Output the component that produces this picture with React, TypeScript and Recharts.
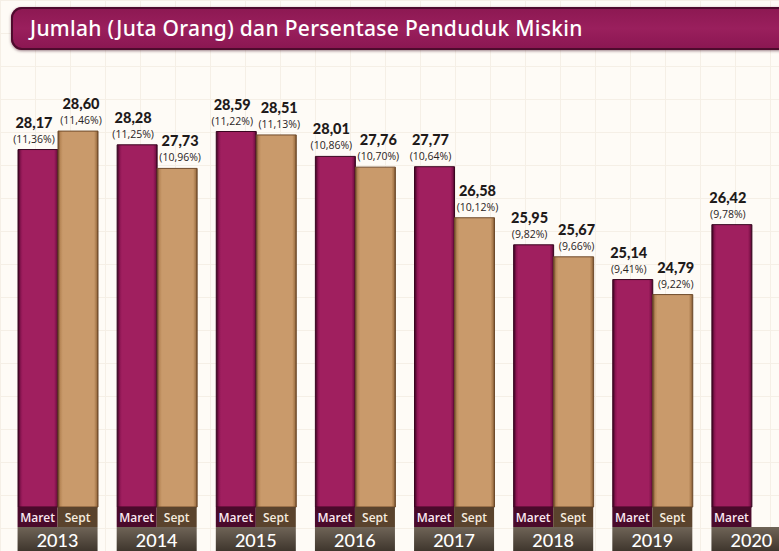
import React from 'react';
import { BarChart, Bar, XAxis, YAxis, LabelList } from 'recharts';

const years = ['2013', '2014', '2015', '2016', '2017', '2018', '2019', '2020'];
const maretValues = [28.17, 28.28, 28.59, 28.01, 27.77, 25.95, 25.14, 26.42];
const septValues: (number | null)[] = [28.6, 27.73, 28.51, 27.76, 26.58, 25.67, 24.79, null];
const maretPct = ['11,36%', '11,25%', '11,22%', '10,86%', '10,64%', '9,82%', '9,41%', '9,78%'];
const septPct = ['11,46%', '10,96%', '11,13%', '10,70%', '10,12%', '9,66%', '9,22%', ''];
const seriesNames = ['Maret', 'Sept'];
const title = 'Jumlah (Juta Orang) dan Persentase Penduduk Miskin';

const data = years.map((y, i) => ({
  year: y,
  maret: maretValues[i],
  sept: septValues[i],
}));

const fmt = (v: number) => v.toFixed(2).replace('.', ',');

const makeLabel = (pcts: string[], shift: number) => (props: any) => {
  const { x, y, width, value, index } = props;
  if (value == null) return null;
  const cx = Number(x) + Number(width) / 2 + shift;
  const top = Number(y);
  return (
    <g>
      <text x={cx} y={top - 22} textAnchor="middle" fontFamily="Lato, 'Noto Sans', sans-serif" fontWeight={900} fontSize={14.5} fill="#1e1a1a">
        {fmt(Number(value))}
      </text>
      <text x={cx} y={top - 7} textAnchor="middle" fontFamily="'Open Sans', sans-serif" fontWeight={400} fontSize={10.5} fill="#2a2424">
        ({pcts[index]})
      </text>
    </g>
  );
};

const YearTick = (props: any) => {
  const { x, y, payload, index } = props;
  const hasSept = septValues[index] != null;
  return (
    <g>
      <rect x={x - 40} y={y} width={40} height={20} fill="#4a0a2b" />
      <text x={x - 20} y={y + 15} textAnchor="middle" fontFamily="'Open Sans', sans-serif" fontWeight={600} fontSize={12} fill="#fbe8f1">
        {seriesNames[0]}
      </text>
      {hasSept && (
        <>
          <rect x={x} y={y} width={40} height={20} fill="#5a432d" />
          <text x={x + 20} y={y + 15} textAnchor="middle" fontFamily="'Open Sans', sans-serif" fontWeight={600} fontSize={12} fill="#f6ecdf">
            {seriesNames[1]}
          </text>
        </>
      )}
      <rect x={x - 40} y={y + 20} width={80} height={24} fill="url(#yearGrad)" />
      <text x={x} y={y + 40} textAnchor="middle" fontFamily="Lato, 'DejaVu Sans', sans-serif" fontWeight={500} fontSize={18} fill="#ffffff">
        {payload.value}
      </text>
    </g>
  );
};

export default function App() {
  return (
    <div
      style={{
        position: 'absolute',
        left: 0,
        top: 0,
        width: 779,
        height: 551,
        overflow: 'hidden',
        backgroundColor: '#fefbf6',
        backgroundImage:
          'linear-gradient(to right, #f5efe6 1px, transparent 1px), linear-gradient(to bottom, #f5efe6 1px, transparent 1px)',
        backgroundSize: '35px 33px',
      }}
    >
      <div
        style={{
          position: 'absolute',
          left: 11,
          top: 7,
          width: 800,
          height: 43,
          borderRadius: 11,
          background: 'linear-gradient(to bottom, #8c1852 0%, #9a1f5d 50%, #8a1651 100%)',
          boxShadow: 'inset 0 0 0 2px #4e0b2d, 0 1px 3px rgba(60,10,30,0.5)',
          color: '#ffffff',
          fontFamily: '"Noto Sans", sans-serif',
          fontWeight: 500,
          fontSize: 21,
          letterSpacing: 0.3,
          lineHeight: '43px',
          paddingLeft: 19,
          boxSizing: 'border-box',
          whiteSpace: 'nowrap',
        }}
      >
        {title}
      </div>
      <div style={{ position: 'absolute', left: 0, top: 0 }}>
        <BarChart
          width={779}
          height={551}
          data={data}
          margin={{ top: 71, right: -22, bottom: 0, left: 8 }}
          barGap={0}
          barSize={40}
        >
          <defs>
            <linearGradient id="marGrad" x1="0" y1="0" x2="1" y2="0">
              <stop offset="0%" stopColor="#3a0520" />
              <stop offset="7%" stopColor="#8d1653" />
              <stop offset="12%" stopColor="#a01f5f" />
              <stop offset="90%" stopColor="#a01f5f" />
              <stop offset="96%" stopColor="#7e1249" />
              <stop offset="100%" stopColor="#3a0520" />
            </linearGradient>
            <linearGradient id="sepGrad" x1="0" y1="0" x2="1" y2="0">
              <stop offset="0%" stopColor="#6e4a2a" />
              <stop offset="6%" stopColor="#b88858" />
              <stop offset="12%" stopColor="#c99a6b" />
              <stop offset="90%" stopColor="#c99a6b" />
              <stop offset="96%" stopColor="#a87a4c" />
              <stop offset="100%" stopColor="#6e4a2a" />
            </linearGradient>
            <linearGradient id="yearGrad" x1="0" y1="0" x2="0" y2="1">
              <stop offset="0%" stopColor="#6f6457" />
              <stop offset="100%" stopColor="#3f362d" />
            </linearGradient>
          </defs>
          <XAxis
            dataKey="year"
            height={44}
            axisLine={false}
            tickLine={false}
            tickSize={0}
            tickMargin={0}
            interval={0}
            tick={<YearTick />}
          />
          <YAxis hide domain={[19.84, 30]} />
          <Bar dataKey="maret" fill="url(#marGrad)" stroke="#3a0520" strokeWidth={1} isAnimationActive={false}>
            <LabelList dataKey="maret" content={makeLabel(maretPct, -4)} />
          </Bar>
          <Bar dataKey="sept" fill="url(#sepGrad)" stroke="#6e4a2a" strokeWidth={1} isAnimationActive={false}>
            <LabelList dataKey="sept" content={makeLabel(septPct, 3)} />
          </Bar>
        </BarChart>
      </div>
    </div>
  );
}
